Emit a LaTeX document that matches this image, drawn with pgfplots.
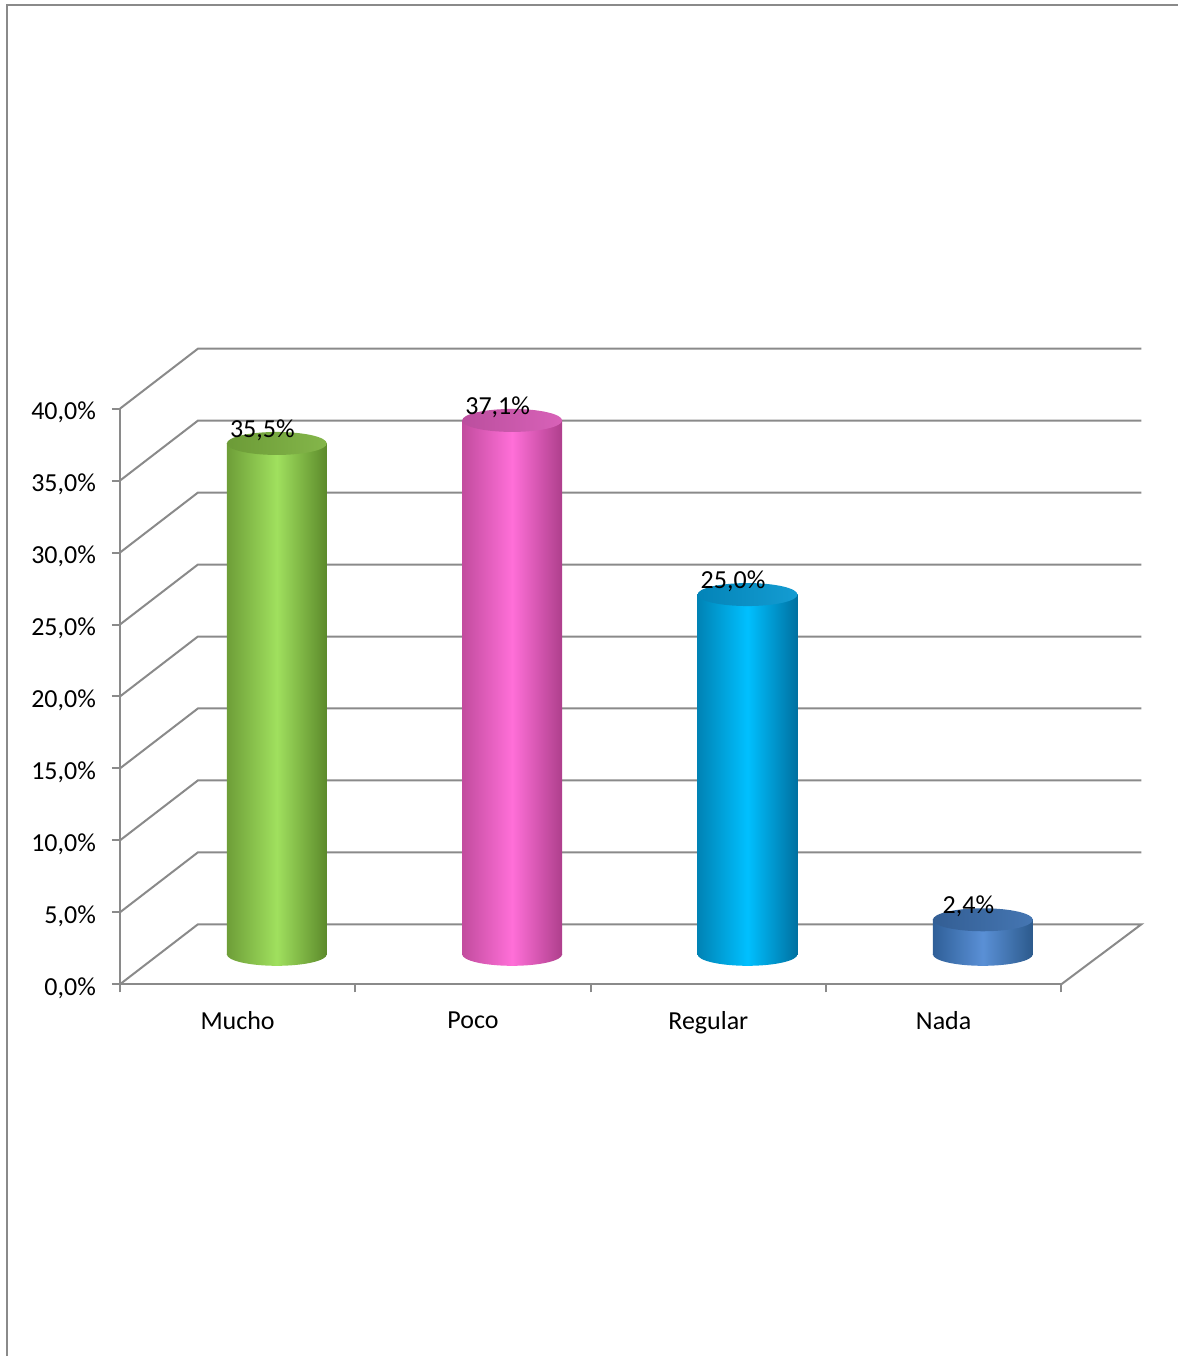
\documentclass[border=0pt]{standalone}
\usepackage{pgfplots}
\pgfplotsset{compat=1.18}
\usepackage{fontspec}
\setmainfont{Carlito}
\usetikzlibrary{shapes.geometric}
\definecolor{gridgray}{RGB}{138,138,138}
\definecolor{MuchoA}{HTML}{6E9E38}
\definecolor{MuchoB}{HTML}{A0E05E}
\definecolor{MuchoC}{HTML}{5C8A2B}
\definecolor{MuchoT}{HTML}{6C9B37}
\definecolor{MuchoU}{HTML}{84B64A}
\definecolor{PocoA}{HTML}{C24C9E}
\definecolor{PocoB}{HTML}{FF6FD8}
\definecolor{PocoC}{HTML}{AE3F8C}
\definecolor{PocoT}{HTML}{BB4E9E}
\definecolor{PocoU}{HTML}{D862B8}
\definecolor{RegA}{HTML}{0083B5}
\definecolor{RegB}{HTML}{00C0FF}
\definecolor{RegC}{HTML}{0070A0}
\definecolor{RegT}{HTML}{0384B8}
\definecolor{RegU}{HTML}{149CD2}
\definecolor{NadaA}{HTML}{2F5F98}
\definecolor{NadaB}{HTML}{5A90D6}
\definecolor{NadaC}{HTML}{2C5A8C}
\definecolor{NadaT}{HTML}{335E94}
\definecolor{NadaU}{HTML}{4576B2}
% #1 x left, #2 x centre, #3 x right, #4 value, #5 label, #6 colour prefix
\newcommand{\cyl}[6]{%
\addplot[draw=none, mark=none, y filter/.expression={y+2.0833},
  nodes near coords={},
  every node near coord/.style={ellipse, inner sep=0pt, minimum width=50pt, minimum height=11.5pt, anchor=center,
    left color=#6A, right color=#6C, middle color=#6B}]
  coordinates {(#2,0)};
\addplot[draw=none, mark=none, y filter/.expression={y+2.0833},
  left color=#6A, right color=#6C, middle color=#6B]
  coordinates {(#1,0) (#1,#4) (#3,#4) (#3,0)};
\addplot[draw=none, mark=none, y filter/.expression={y+2.0833},
  nodes near coords={},
  every node near coord/.style={ellipse, inner sep=0pt, minimum width=50pt, minimum height=11.5pt, anchor=center,
    left color=#6T, right color=#6U}]
  coordinates {(#2,#4)};
\addplot[draw=none, mark=none, y filter/.expression={y+2.0833},
  nodes near coords={#5},
  every node near coord/.style={anchor=base, xshift=-7.25pt, yshift=3pt, text=black,
    font=\fontsize{13}{15}\selectfont}]
  coordinates {(#2,#4)};
}
\begin{document}
\begin{tikzpicture}
\begin{axis}[
  scale only axis, width=471pt, height=288pt,
  xmin=0, xmax=4, ymin=0, ymax=40,
  clip=false,
  axis x line*=bottom, axis y line*=left,
  axis line style={gridgray, line width=1pt},
  tick style={gridgray, line width=1pt},
  major tick length=4pt, tick align=outside,
  xtick={0,1,2,3,4}, x tick label as interval,
  xticklabels={Mucho,Poco,Regular,Nada},
  ytick={0,5,...,40},
  yticklabel={\pgfmathprintnumber[fixed,fixed zerofill,precision=1,use comma]{\tick}\%},
  /pgf/number format/assume math mode=true,
  tick label style={font=\fontsize{13}{15}\selectfont, text=black},
  yticklabel style={xshift=-4.5pt, yshift=-2pt},
  xticklabel style={yshift=-6pt},
  unbounded coords=jump,
]
% picture bounds and outer frame
\path (axis cs:-0.5096,68.40) rectangle (axis cs:4.4968,-25.83);
\addplot[gridgray, line width=1pt, mark=none] coordinates {(-0.4798,-25.83) (-0.4798,68.06) (4.4968,68.06)};
% back wall, left wall and floor lines
\addplot[gridgray, line width=1pt, mark=none] table[row sep=\\] {
x y\\
0 0\\ 0.3312 4.1667\\ 4.34 4.1667\\ 4 0\\ nan nan\\
0 5\\ 0.3312 9.1667\\ 4.34 9.1667\\ nan nan\\
0 10\\ 0.3312 14.1667\\ 4.34 14.1667\\ nan nan\\
0 15\\ 0.3312 19.1667\\ 4.34 19.1667\\ nan nan\\
0 20\\ 0.3312 24.1667\\ 4.34 24.1667\\ nan nan\\
0 25\\ 0.3312 29.1667\\ 4.34 29.1667\\ nan nan\\
0 30\\ 0.3312 34.1667\\ 4.34 34.1667\\ nan nan\\
0 35\\ 0.3312 39.1667\\ 4.34 39.1667\\ nan nan\\
0 40\\ 0.3312 44.1667\\ 4.34 44.1667\\
};
\cyl{0.4543}{0.6666}{0.8789}{35.5}{35,5\%}{Mucho}
\cyl{1.4543}{1.6666}{1.8789}{37.1}{37,1\%}{Poco}
\cyl{2.4543}{2.6666}{2.8789}{25.0}{25,0\%}{Reg}
\cyl{3.4543}{3.6666}{3.8789}{2.4}{2,4\%}{Nada}
\end{axis}
\end{tikzpicture}
\end{document}
